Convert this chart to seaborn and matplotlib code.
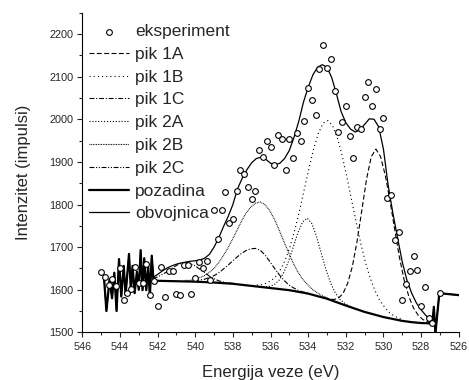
import matplotlib
matplotlib.use("Agg")
import matplotlib.pyplot as plt
from matplotlib.ticker import MultipleLocator
import seaborn as sns

# experimental points (eV, counts)
exp_energy = [545.0, 544.8, 544.6, 544.4, 544.2, 544.0, 543.8, 543.6, 543.4, 543.2,
              543.0, 542.8, 542.6, 542.4, 542.2, 542.0, 541.8, 541.6, 541.4, 541.2,
              541.0, 540.8, 540.6, 540.4, 540.2, 540.0, 539.8, 539.6, 539.4, 539.2,
              539.0, 538.8, 538.6, 538.4, 538.2, 538.0, 537.8, 537.6, 537.4, 537.2,
              537.0, 536.8, 536.6, 536.4, 536.2, 536.0, 535.8, 535.6, 535.4, 535.2,
              535.0, 534.8, 534.6, 534.4, 534.2, 534.0, 533.8, 533.6, 533.4, 533.2,
              533.0, 532.8, 532.6, 532.4, 532.2, 532.0, 531.8, 531.6, 531.4, 531.2,
              531.0, 530.8, 530.6, 530.4, 530.2, 530.0, 529.8, 529.6, 529.4, 529.2,
              529.0, 528.8, 528.6, 528.4, 528.2, 528.0, 527.8, 527.6, 527.4, 527.0]
exp_counts = [1641, 1631, 1612, 1625, 1609, 1650, 1577, 1592, 1601, 1653,
              1616, 1616, 1661, 1587, 1620, 1562, 1654, 1582, 1643, 1645,
              1589, 1588, 1659, 1657, 1591, 1628, 1664, 1652, 1667, 1623,
              1788, 1718, 1786, 1830, 1757, 1766, 1832, 1882, 1872, 1841,
              1814, 1832, 1927, 1912, 1949, 1935, 1893, 1964, 1953, 1882,
              1953, 1908, 1967, 1949, 1997, 2073, 2046, 2010, 2117, 2175,
              2120, 2141, 2066, 1971, 1993, 2030, 1961, 1910, 1982, 1978,
              2052, 2088, 2032, 2070, 1976, 2002, 1816, 1822, 1716, 1735,
              1576, 1613, 1645, 1679, 1646, 1562, 1607, 1533, 1523, 1592]

# noisy start shared by background and envelope
zig_energy = [544.85, 544.72, 544.55, 544.42, 544.30, 544.18, 544.05, 543.93, 543.80, 543.70,
              543.52, 543.42, 543.33, 543.22, 543.10, 543.00, 542.90, 542.80, 542.71, 542.60,
              542.50, 542.41, 542.31]
zig_counts = [1630, 1550, 1625, 1580, 1640, 1550, 1672, 1584, 1656, 1588,
              1684, 1599, 1656, 1592, 1642, 1600, 1693, 1599, 1674, 1599,
              1656, 1584, 1680]

# spike at the low energy end
tail_energy = [527.40, 527.32, 527.24, 527.03, 525.9]
tail_counts = [1523, 1560, 1497, 1592, 1587]

bg_energy = [542.22, 542.0, 541.0, 540.0, 539.0, 538.0, 537.0, 536.0, 535.0, 534.0,
             533.0, 532.0, 531.0, 530.0, 529.0, 528.5, 528.0, 527.45]
bg_counts = [1621, 1621, 1620, 1619, 1617, 1614, 1609, 1604, 1599, 1591,
             1579, 1563, 1548, 1536, 1527, 1524, 1522, 1521]

env_energy = [542.22, 542.0, 541.75, 541.5, 541.25, 541.0, 540.75, 540.5, 540.25, 540.0,
              539.75, 539.5, 539.25, 539.0, 538.75, 538.5, 538.25, 538.0, 537.75, 537.5,
              537.25, 537.0, 536.75, 536.5, 536.25, 536.0, 535.75, 535.5, 535.25, 535.0,
              534.75, 534.5, 534.25, 534.0, 533.75, 533.5, 533.25, 533.0, 532.75, 532.5,
              532.25, 532.0, 531.75, 531.5, 531.25, 531.0, 530.75, 530.5, 530.25, 530.0,
              529.75, 529.5, 529.25, 529.0, 528.75, 528.5, 528.25, 528.0, 527.75, 527.5]
env_counts = [1630, 1636, 1644, 1651, 1656, 1660, 1663, 1665, 1667, 1668,
              1670, 1674, 1683, 1700, 1722, 1748, 1772, 1800, 1837, 1862,
              1882, 1898, 1908, 1911, 1906, 1897, 1893, 1897, 1908, 1927,
              1958, 1995, 2040, 2075, 2104, 2122, 2128, 2122, 2098, 2060,
              2018, 1992, 1977, 1970, 1975, 1988, 2001, 2000, 1982, 1930,
              1845, 1780, 1722, 1665, 1622, 1592, 1569, 1553, 1540, 1528]

pik1a_energy = [533.15, 532.9, 532.65, 532.4, 532.15, 531.9, 531.65, 531.4, 531.15, 530.9,
                530.65, 530.4, 530.15, 529.9, 529.65, 529.4, 529.15, 528.9, 528.65, 528.4,
                528.15, 527.9, 527.65, 527.4]
pik1a_counts = [1582, 1579, 1577, 1580, 1591, 1615, 1655, 1714, 1786, 1859,
                1912, 1930, 1912, 1868, 1808, 1741, 1676, 1623, 1584, 1557,
                1540, 1530, 1525, 1522]

pik1b_energy = [536.95, 536.7, 536.45, 536.2, 535.95, 535.7, 535.45, 535.2, 534.95, 534.7,
                534.45, 534.2, 533.95, 533.7, 533.45, 533.2, 532.95, 532.7, 532.45, 532.2,
                531.95, 531.7, 531.45, 531.2, 530.95, 530.7, 530.45, 530.2, 529.95, 529.7,
                529.45, 529.2, 528.95]
pik1b_counts = [1610, 1611, 1612, 1616, 1622, 1632, 1649, 1672, 1703, 1742,
                1787, 1837, 1886, 1932, 1968, 1991, 1997, 1985, 1957, 1916,
                1866, 1812, 1759, 1708, 1663, 1627, 1598, 1575, 1560, 1547,
                1539, 1534, 1529]

pik1c_energy = [540.05, 539.8, 539.55, 539.3, 539.05, 538.8, 538.55, 538.3, 538.05, 537.8,
                537.55, 537.3, 537.05, 536.8, 536.55, 536.3, 536.05, 535.8, 535.55, 535.3,
                535.05, 534.8, 534.55, 534.3, 534.05]
pik1c_counts = [1621, 1623, 1624, 1628, 1632, 1638, 1647, 1656, 1666, 1676,
                1685, 1692, 1696, 1697, 1693, 1682, 1667, 1651, 1636, 1623,
                1612, 1605, 1599, 1595, 1593]

pik2a_energy = [536.55, 536.3, 536.05, 535.8, 535.55, 535.3, 535.05, 534.8, 534.55, 534.3,
                534.05, 533.8, 533.55, 533.3, 533.05, 532.8, 532.55, 532.3, 532.05, 531.8,
                531.55]
pik2a_counts = [1607, 1607, 1608, 1612, 1622, 1640, 1666, 1699, 1733, 1759,
                1768, 1755, 1724, 1685, 1647, 1615, 1592, 1577, 1568, 1561,
                1556]

pik2b_energy = [540.55, 540.3, 540.05, 539.8, 539.55, 539.3, 539.05, 538.8, 538.55, 538.3,
                538.05, 537.8, 537.55, 537.3, 537.05, 536.8, 536.55, 536.3, 536.05, 535.8,
                535.55, 535.3, 535.05, 534.8, 534.55, 534.3, 534.05, 533.8, 533.55, 533.3,
                533.05]
pik2b_counts = [1622, 1622, 1624, 1628, 1632, 1639, 1648, 1661, 1677, 1695,
                1716, 1738, 1760, 1780, 1794, 1803, 1806, 1800, 1786, 1766,
                1741, 1714, 1688, 1663, 1642, 1625, 1613, 1602, 1594, 1587,
                1582]

pik2c_energy = [542.25, 542.0, 541.75, 541.5, 541.25, 541.0, 540.75, 540.5, 540.25, 540.0,
                539.75, 539.5, 539.25, 539.0, 538.75, 538.5, 538.25, 538.0]
pik2c_counts = [1627, 1630, 1636, 1642, 1650, 1657, 1662, 1664, 1661, 1656,
                1648, 1640, 1632, 1626, 1621, 1618, 1616, 1615]

sns.set_style("ticks")
plt.rcParams["font.family"] = ["Liberation Sans", "DejaVu Sans"]
plt.rcParams["lines.scale_dashes"] = False

fig = plt.figure(figsize=(4.69, 3.80), dpi=100)
ax = fig.add_axes([0.1755, 0.1253, 0.8026, 0.8413])

peaks = [
    ("pik 1A", pik1a_energy, pik1a_counts, (0, (3.5, 1.8))),
    ("pik 1B", pik1b_energy, pik1b_counts, (0, (0.8, 2.2))),
    ("pik 1C", pik1c_energy, pik1c_counts, (0, (3.5, 1.3, 0.8, 1.3))),
    ("pik 2A", pik2a_energy, pik2a_counts, (0, (0.8, 1.3))),
    ("pik 2B", pik2b_energy, pik2b_counts, (0, (0.6, 0.6))),
    ("pik 2C", pik2c_energy, pik2c_counts, (0, (3.5, 1.2, 0.8, 1.2, 0.8, 1.2))),
]
for name, xs, ys, ls in peaks:
    sns.lineplot(x=xs, y=ys, ax=ax, sort=False, estimator=None, legend=False,
                 color="black", lw=0.8, linestyle=ls, label=name)

sns.lineplot(x=zig_energy + bg_energy + tail_energy, y=zig_counts + bg_counts + tail_counts,
             ax=ax, sort=False, estimator=None, legend=False, color="black", lw=1.6,
             label="pozadina")
sns.lineplot(x=zig_energy + env_energy + tail_energy, y=zig_counts + env_counts + tail_counts,
             ax=ax, sort=False, estimator=None, legend=False, color="black", lw=0.9,
             label="obvojnica")
sns.scatterplot(x=exp_energy, y=exp_counts, ax=ax, marker="o", s=17, facecolor="white",
                edgecolor="black", linewidth=0.8, zorder=5, legend=False, label="eksperiment")

ax.set_xlim(546, 526)
ax.set_ylim(1500, 2250)
ax.xaxis.set_major_locator(MultipleLocator(2))
ax.xaxis.set_minor_locator(MultipleLocator(1))
ax.yaxis.set_major_locator(MultipleLocator(100))
ax.yaxis.set_minor_locator(MultipleLocator(50))
ax.tick_params(which="major", direction="out", length=3.6, width=0.8, labelsize=7.8, pad=3)
ax.tick_params(which="minor", direction="out", length=2.2, width=0.8)
sns.despine(ax=ax)
for sp in ["left", "bottom"]:
    ax.spines[sp].set_linewidth(0.8)
    ax.spines[sp].set_color("black")

ax.set_xlabel("Energija veze (eV)", fontsize=12, labelpad=10)
ax.set_ylabel("Intenzitet (impulsi)", fontsize=12, labelpad=13)

order = ["eksperiment", "pik 1A", "pik 1B", "pik 1C", "pik 2A", "pik 2B", "pik 2C",
         "pozadina", "obvojnica"]
handles, labels = ax.get_legend_handles_labels()
lookup = dict(zip(labels, handles))
ax.legend([lookup[n] for n in order], order, loc="upper left",
          bbox_to_anchor=(0.19, 0.937), bbox_transform=fig.transFigure,
          frameon=False, fontsize=12.5, handlelength=2.3, handletextpad=0.35,
          labelspacing=0.44, borderpad=0, borderaxespad=0, scatterpoints=1)

fig.savefig("out.png", dpi=100)
